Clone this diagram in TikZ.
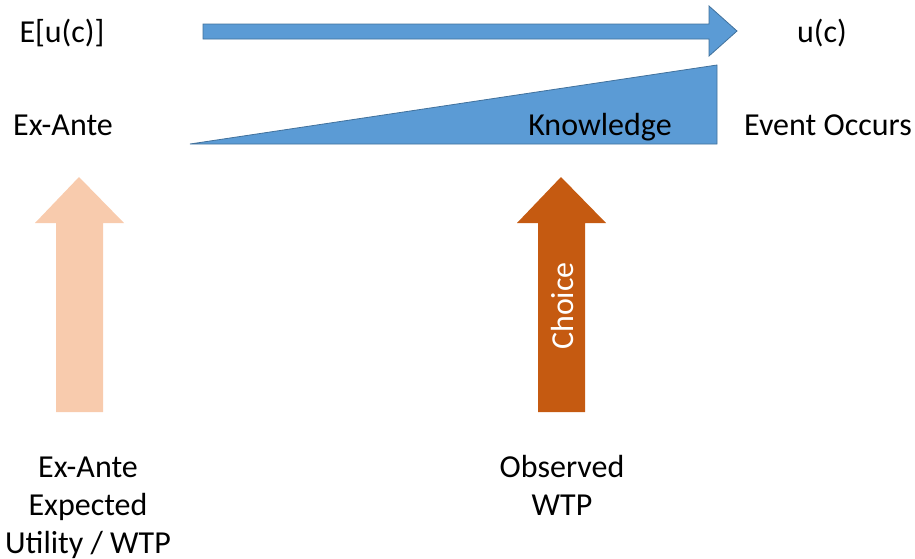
\documentclass[tikz,border=0pt]{standalone}
\usepackage{fontspec}
\setmainfont{Carlito}
\definecolor{blueA}{HTML}{5B9BD5}
\definecolor{blueB}{HTML}{41719C}
\definecolor{peach}{HTML}{F8CBAD}
\definecolor{rust}{HTML}{C55A11}
\begin{document}
\begin{tikzpicture}[x=0.75pt,y=-0.75pt,
  lbl/.style={font=\fontsize{24}{28.5}\selectfont, inner sep=0pt, anchor=base, align=center},
  bluefill/.style={fill=blueA, draw=blueB, line width=0.6pt, line join=miter}]
\useasboundingbox (0,0) rectangle (915,558);
% top arrow
\path[bluefill] (203,24) -- (709,24) -- (709,6) -- (737,31) -- (709,56) -- (709,39) -- (203,39) -- cycle;
% knowledge wedge
\path[bluefill] (190,144) -- (717,65) -- (717,144) -- cycle;
% left arrow
\fill[peach] (56,412) -- (56,223) -- (35,223) -- (79,177) -- (124,223) -- (103,223) -- (103,412) -- cycle;
% right arrow
\fill[rust] (538,412) -- (538,223) -- (517,223) -- (561,177) -- (606,223) -- (585,223) -- (585,412) -- cycle;
\node[lbl, rotate=90, text=white] (choice) at (573,306) {Choice};
% labels
\node[lbl] (eu) at (62,42) {E[u(c)]};
\node[lbl] (uc) at (822,42) {u(c)};
\node[lbl] (exante) at (63,135) {Ex-Ante};
\node[lbl] (know) at (600,135) {Knowledge};
\node[lbl] (event) at (828,135) {Event Occurs};
\node[lbl] (bl) at (88,553) {Ex-Ante\\Expected\\Utility / WTP};
\node[lbl] (br) at (562,515) {Observed\\WTP};
\end{tikzpicture}
\end{document}
